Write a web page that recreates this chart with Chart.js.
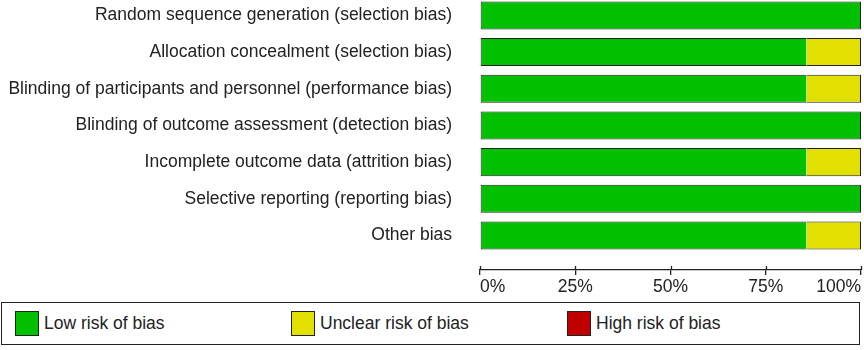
<!DOCTYPE html>
<html>
<head>
<meta charset="utf-8">
<script src="https://cdn.jsdelivr.net/npm/chart.js@4/dist/chart.umd.min.js"></script>
<style>
  html, body { margin: 0; padding: 0; background: #fff; }
  body { width: 864px; height: 350px; position: relative; font-family: "Liberation Sans", Arial, sans-serif; }
  #wrap { position: absolute; left: 0; top: 0; width: 864px; height: 300px; }
  #legend {
    position: absolute; left: 1px; top: 302px; width: 857px; height: 41px;
    border: 1.5px solid #222; display: flex; align-items: center;
  }
  .item { display: flex; align-items: center; width: 276px; font-size: 17.5px; color: #222; }
  .item:first-child { margin-left: 13px; }
  .swatch { width: 22px; height: 23px; border: 1px solid #222; margin-right: 5px; }
</style>
</head>
<body>
<div id="wrap"><canvas id="robChart"></canvas></div>
<div id="legend"></div>
<script>
const domains = [
    'Random sequence generation (selection bias)',
    'Allocation concealment (selection bias)',
    'Blinding of participants and personnel (performance bias)',
    'Blinding of outcome assessment (detection bias)',
    'Incomplete outcome data (attrition bias)',
    'Selective reporting (reporting bias)',
    'Other bias'
];
const lowRisk = [100, 85.7, 85.7, 100, 85.7, 100, 85.7];
const unclearRisk = [0, 14.3, 14.3, 0, 14.3, 0, 14.3];
const highRisk = [0, 0, 0, 0, 0, 0, 0];
const xTicks = [0, 25, 50, 75, 100];

const seriesNames = ['Low risk of bias', 'Unclear risk of bias', 'High risk of bias'];
const seriesColors = ['#00c000', '#e2e000', '#c00000'];
const edge = '#222';
const font = { family: '"Liberation Sans", Arial, sans-serif', size: 17.5 };

// border only on the outer edges of each stacked bar
function borders(ctx) {
    const i = ctx.dataIndex;
    const vals = [lowRisk[i], unclearRisk[i], highRisk[i]];
    const d = ctx.datasetIndex;
    if (!vals[d]) return 0;
    const before = vals.slice(0, d).some(v => v > 0);
    const after = vals.slice(d + 1).some(v => v > 0);
    return { top: 1, bottom: 1, left: before ? 0 : 1, right: after ? 0 : 1 };
}

// tick marks above the axis line too
const upTicks = {
    id: 'upTicks',
    afterDraw(chart) {
        const x = chart.scales.x;
        const y0 = chart.chartArea.bottom;
        const c = chart.ctx;
        c.save();
        c.strokeStyle = edge;
        c.lineWidth = 1.3;
        x.ticks.forEach((t, i) => {
            const px = Math.round(x.getPixelForTick(i)) + 0.5;
            c.beginPath();
            c.moveTo(px, y0);
            c.lineTo(px, y0 - 4);
            c.stroke();
        });
        c.restore();
    }
};

const datasets = [lowRisk, unclearRisk, highRisk].map((data, k) => ({
    label: seriesNames[k],
    data: data.map((v, i) => ({ x: v, y: i })),
    backgroundColor: seriesColors[k],
    borderColor: edge,
    borderWidth: borders,
    borderSkipped: false,
    barPercentage: 0.765,
    categoryPercentage: 1
}));

new Chart(document.getElementById('robChart'), {
    type: 'bar',
    data: { datasets: datasets },
    options: {
        indexAxis: 'y',
        responsive: true,
        maintainAspectRatio: false,
        animation: false,
        layout: { padding: { top: 0, right: 3, bottom: 0, left: 0 } },
        plugins: { legend: { display: false }, tooltip: { enabled: false } },
        scales: {
            x: {
                stacked: true,
                min: 0,
                max: 100,
                afterBuildTicks: s => { s.ticks = xTicks.map(v => ({ value: v })); },
                afterFit: s => { s.height = 30; },
                ticks: {
                    font: font,
                    color: '#222',
                    align: 'inner',
                    padding: 2,
                    maxRotation: 0,
                    callback: v => v + '%'
                },
                grid: { drawOnChartArea: false, tickLength: 5, color: edge, lineWidth: 1.3 },
                border: { color: edge, width: 1.3 }
            },
            y: {
                type: 'linear',
                stacked: true,
                reverse: true,
                offset: false,
                min: -0.42,
                max: 6.94,
                afterBuildTicks: s => { s.ticks = domains.map((d, i) => ({ value: i })); },
                afterFit: s => { s.width = 480; s.paddingTop = 0; s.paddingBottom = 0; },
                ticks: { font: font, color: '#222', padding: 20, callback: v => domains[v] },
                grid: { display: false },
                border: { display: false }
            }
        }
    },
    plugins: [upTicks]
});

document.getElementById('legend').innerHTML = seriesNames.map((n, k) =>
    `<div class="item"><div class="swatch" style="background:${seriesColors[k]}"></div>${n}</div>`
).join('');
</script>
</body>
</html>
